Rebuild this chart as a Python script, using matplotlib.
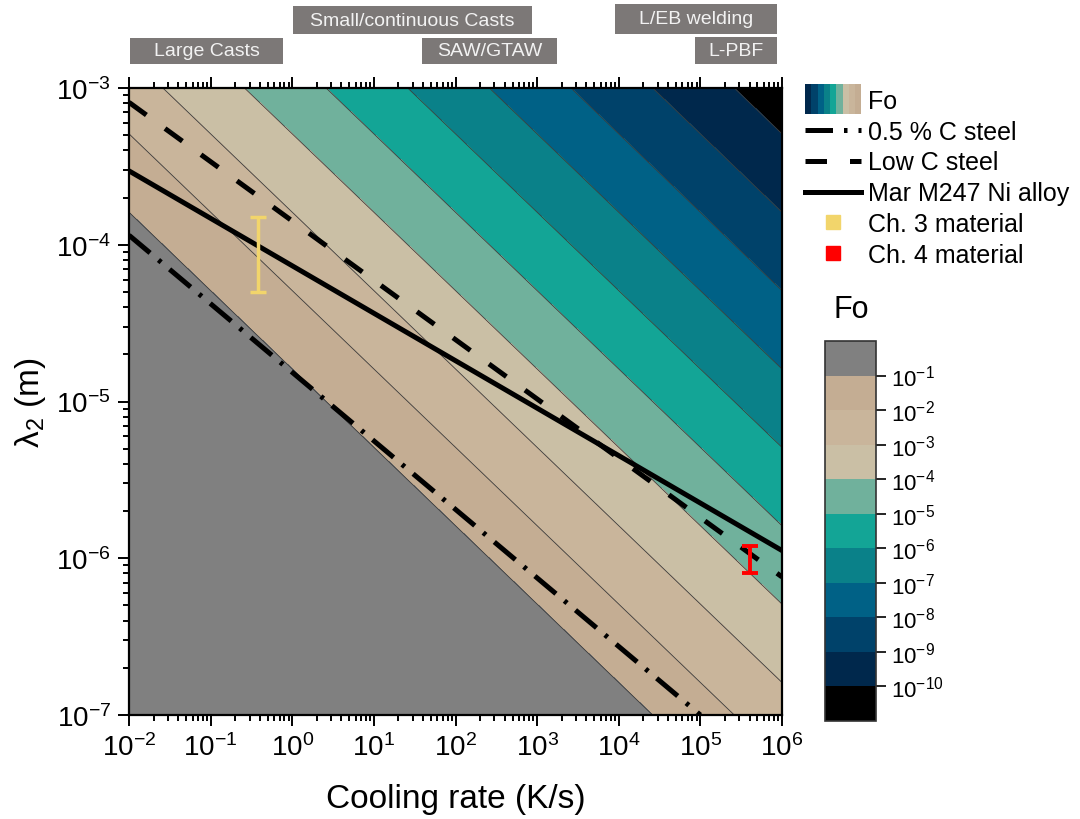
import numpy as np
import matplotlib
matplotlib.use("Agg")
import matplotlib.pyplot as plt
from matplotlib.colors import ListedColormap, BoundaryNorm
from matplotlib.cm import ScalarMappable
from matplotlib.lines import Line2D
from matplotlib.patches import Rectangle, Patch
from matplotlib.legend_handler import HandlerBase
from matplotlib.ticker import LogLocator, NullFormatter, LogFormatterMathtext

plt.rcParams['font.family'] = ['Liberation Sans', 'DejaVu Sans']
plt.rcParams['mathtext.fontset'] = 'custom'
plt.rcParams['mathtext.rm'] = 'Liberation Sans'
plt.rcParams['mathtext.it'] = 'Liberation Sans:italic'
plt.rcParams['mathtext.default'] = 'regular'

# ---------------- data ----------------
# Fourier number model: Fo = FO_CONST / (cooling_rate * lambda2^2)
FO_CONST = 2.6e-11
fo_levels_exp = [-10, -9, -8, -7, -6, -5, -4, -3, -2, -1]
fo_colors = ['#000000', '#00284C', '#00426A', '#006186', '#0A8189',
             '#13A596', '#70B19C', '#CABFA5', '#C9B59B', '#C4AD93', '#808080']

# dendrite arm spacing relations
steel05_rate = [1e-2, 1e5]
steel05_lam = [1.15e-4, 1.0e-7]
lowc_rate = [1e-2, 1e6]
lowc_lam = [8.1e-4, 7.6e-7]
marm_rate = [1e-2, 1e6]
marm_lam = [2.96e-4, 1.12e-6]

# material measurements
ch3_rate = [0.38]
ch3_lam_lo = [5.0e-5]
ch3_lam_hi = [1.5e-4]
ch4_rate = [4.1e5]
ch4_lam_lo = [8.0e-7]
ch4_lam_hi = [1.2e-6]

process_labels = ['Large Casts', 'Small/continuous Casts', 'SAW/GTAW', 'L/EB welding', 'L-PBF']

# ---------------- figure ----------------
W, H = 1080, 820
fig = plt.figure(figsize=(W / 100, H / 100), dpi=100)


def fx(px):
    return px / W


def fy(py):
    return 1 - py / H


ax = fig.add_axes([fx(129), fy(716), fx(782) - fx(129), fy(89) - fy(716)])

xr = np.logspace(-2, 6, 500)
yr = np.logspace(-7, -3, 500)
X, Y = np.meshgrid(xr, yr)
logFo = np.log10(FO_CONST / (X * Y ** 2))

fill_levels = [-30] + fo_levels_exp + [30]
ax.contourf(X, Y, logFo, levels=fill_levels, colors=fo_colors)
ax.contour(X, Y, logFo, levels=fo_levels_exp, colors='#3c3c3c',
           linewidths=0.6, linestyles='solid')

ax.set_xscale('log')
ax.set_yscale('log')
ax.set_xlim(1e-2, 1e6)
ax.set_ylim(1e-7, 1e-3)

lw = 3.6
ax.plot(steel05_rate, steel05_lam, color='black', lw=lw,
        linestyle=(0, (5.5, 2.2, 0.7, 2.2)), dash_capstyle='butt')
ax.plot(lowc_rate, lowc_lam, color='black', lw=lw,
        linestyle=(0, (4.3, 4.6)), dash_capstyle='butt')
ax.plot(marm_rate, marm_lam, color='black', lw=lw)

ax.errorbar(ch3_rate, ch3_lam_lo,
            yerr=[[0], [ch3_lam_hi[0] - ch3_lam_lo[0]]],
            fmt='none', ecolor='#F2D56B', elinewidth=2.5, capsize=5.5, capthick=2.5)
ax.errorbar(ch4_rate, ch4_lam_lo,
            yerr=[[0], [ch4_lam_hi[0] - ch4_lam_lo[0]]],
            fmt='none', ecolor='#FF0000', elinewidth=2.8, capsize=5.5, capthick=2.8)

# axes styling
for s in ax.spines.values():
    s.set_linewidth(1.6)
ax.xaxis.set_major_locator(LogLocator(base=10, numticks=20))
ax.xaxis.set_minor_locator(LogLocator(base=10, subs=np.arange(2, 10), numticks=20))
ax.yaxis.set_major_locator(LogLocator(base=10, numticks=20))
ax.yaxis.set_minor_locator(LogLocator(base=10, subs=np.arange(2, 10), numticks=20))
ax.xaxis.set_major_formatter(LogFormatterMathtext())
ax.yaxis.set_major_formatter(LogFormatterMathtext())
ax.xaxis.set_minor_formatter(NullFormatter())
ax.yaxis.set_minor_formatter(NullFormatter())
ax.tick_params(which='both', direction='out', top=True, right=False,
               labeltop=False, width=1.4, labelsize=20)
ax.tick_params(which='major', length=8, pad=5)
ax.tick_params(which='minor', length=4)

ax.set_xlabel('Cooling rate (K/s)', fontsize=24, labelpad=16)
ax.set_ylabel(r'$\lambda_2$ (m)', fontsize=24, labelpad=6)

# process boxes on top (pixel boxes: x0, x1, y0, y1)
boxes = [(130, 283, 39, 65), (293, 532, 7, 35), (422, 557, 39, 65),
         (615, 777, 5, 35), (695, 777, 38, 65)]
for lab, (x0, x1, y0, y1) in zip(process_labels, boxes):
    fig.patches.append(Rectangle((fx(x0), fy(y1)), fx(x1) - fx(x0), fy(y0) - fy(y1),
                                 transform=fig.transFigure, facecolor='#7C7877',
                                 edgecolor='none'))
    fig.text(fx((x0 + x1) / 2), fy((y0 + y1) / 2), lab, ha='center', va='center',
             color='#F2F2F2', fontsize=14,
             family=['Liberation Sans Narrow', 'Liberation Sans', 'DejaVu Sans'])

# colorbar
cax = fig.add_axes([fx(825), fy(722), fx(876) - fx(825), fy(342) - fy(722)])
cb_bounds = list(range(-11, 1))
cb_norm = BoundaryNorm(cb_bounds, len(fo_colors))
cb_cmap = ListedColormap(fo_colors)
cb = fig.colorbar(ScalarMappable(norm=cb_norm, cmap=cb_cmap), cax=cax,
                  ticks=fo_levels_exp, drawedges=False)
cb.ax.set_yticklabels([r'$10^{%d}$' % k for k in fo_levels_exp])
cb.ax.tick_params(labelsize=16, length=7, width=1.2, direction='out')
cb.outline.set_linewidth(1.2)
cb.outline.set_edgecolor('#333333')
cb.ax.minorticks_off()
fig.text(fx(851), fy(310), 'Fo', ha='center', va='center', fontsize=22)


# legend
class GradHandler(HandlerBase):
    def __init__(self, cols):
        super().__init__()
        self.cols = cols

    def create_artists(self, legend, orig_handle, xdescent, ydescent, width,
                       height, fontsize, trans):
        n = len(self.cols)
        h = height * 1.7
        y0 = -ydescent - (h - height) / 2
        arts = []
        for i, c in enumerate(self.cols):
            arts.append(Rectangle((-xdescent + i * width / n, y0), width / n, h,
                                  facecolor=c, edgecolor='none', transform=trans))
        return arts


grad_cols = ['#00284C', '#00426A', '#006186', '#0A8189', '#13A596',
             '#70B19C', '#CABFA5', '#C9B59B', '#C4AD93']
fo_proxy = Patch()
handles = [
    fo_proxy,
    Line2D([], [], color='black', lw=lw, linestyle=(0, (5.5, 2.2, 0.7, 2.2)), dash_capstyle='butt'),
    Line2D([], [], color='black', lw=lw, linestyle=(0, (4.3, 4.6)), dash_capstyle='butt'),
    Line2D([], [], color='black', lw=lw),
    Line2D([], [], color='#F2D56B', marker='s', ls='none', markersize=10),
    Line2D([], [], color='#FF0000', marker='s', ls='none', markersize=10),
]
labels = ['Fo', '0.5 % C steel', 'Low C steel', 'Mar M247 Ni alloy',
          'Ch. 3 material', 'Ch. 4 material']
fig.legend(handles, labels, loc='upper left', bbox_to_anchor=(fx(805), fy(90)),
           frameon=False, fontsize=18, handlelength=2.25, handletextpad=0.25,
           labelspacing=0.27, borderpad=0, borderaxespad=0,
           handler_map={fo_proxy: GradHandler(grad_cols)})

fig.savefig('out.png', dpi=100)
